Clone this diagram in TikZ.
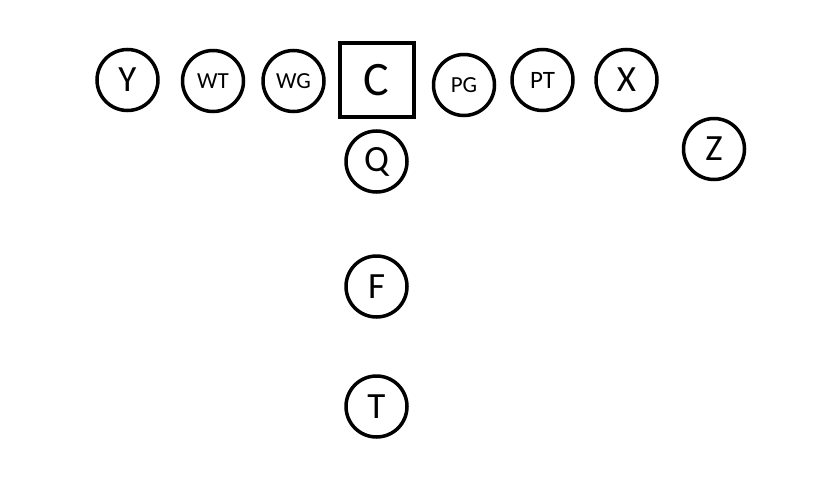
\documentclass[tikz,border=0pt]{standalone}
\usepackage{fontspec}
\setmainfont{Carlito}
\begin{document}
\begin{tikzpicture}[x=1pt,y=-1pt,
  player/.style={circle,draw=black,line width=3.5pt,minimum size=61pt,inner sep=0pt,fill=white},
  center/.style={rectangle,draw=black,line width=4pt,minimum size=74pt,inner sep=0pt,fill=white},
  big/.style={font=\fontsize{37}{37}\selectfont},
  small/.style={font=\fontsize{23}{23}\selectfont}]
\fill[white] (0,0) rectangle (840,479);
\useasboundingbox (0,0) rectangle (840,479);
\node[player,big] (Y) at (127.5,80) {Y};
\node[player,small] (WT) at (213,81) {WT};
\node[player,small] (WG) at (293.5,81) {WG};
\node[center,font=\fontsize{48}{48}\selectfont] (C) at (376.5,80) {C};
\node[player,small] (PG) at (464,85) {PG};
\node[player,font=\fontsize{25}{25}\selectfont] (PT) at (542.5,80) {PT};
\node[player,big] (X) at (626.5,80) {X};
\node[player,big] (Z) at (714,149) {Z};
\node[player,big] (Q) at (376.5,161.5) {Q};
\node[player,big] (F) at (376.5,286.5) {F};
\node[player,big] (T) at (376.5,406.5) {T};
\end{tikzpicture}
\end{document}
